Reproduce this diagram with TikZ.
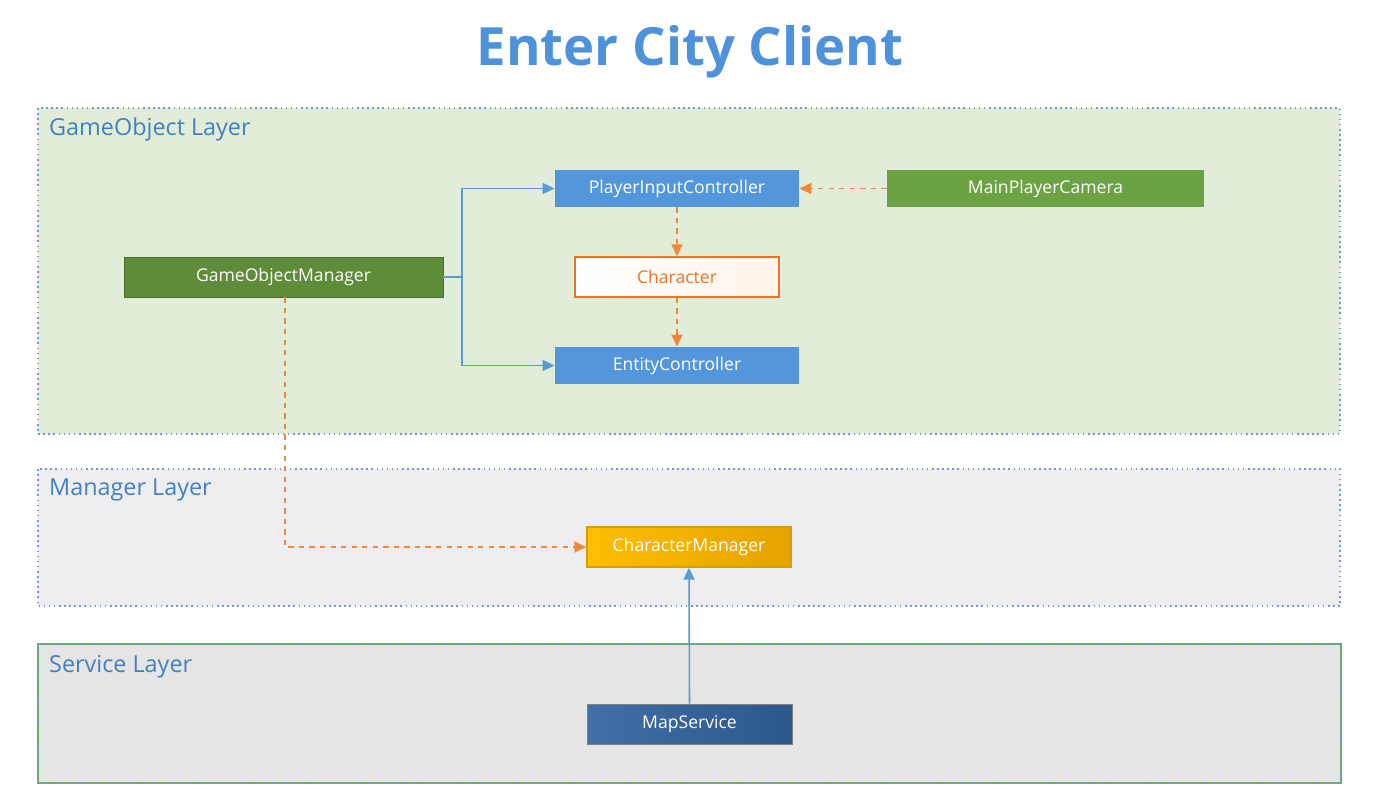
\documentclass[tikz,border=0pt]{standalone}
\usepackage{fontspec}
\setmainfont{Open Sans}
\usepackage{tikz}
\usetikzlibrary{arrows.meta}

\definecolor{titleblue}{RGB}{78,146,220}
\definecolor{labelblue}{RGB}{66,128,192}
\definecolor{nodeblue}{RGB}{84,150,219}
\definecolor{edgeblue}{RGB}{91,155,213}
\definecolor{edgeorange}{RGB}{242,135,58}
\definecolor{charorange}{RGB}{234,116,42}
\definecolor{camgreen}{RGB}{107,162,68}
\definecolor{mgrgreen}{RGB}{94,140,57}
\definecolor{goLayer}{RGB}{226,237,217}
\definecolor{mgrLayer}{RGB}{238,238,241}
\definecolor{svcLayer}{RGB}{229,229,229}
\definecolor{dotblue}{RGB}{120,150,200}
\definecolor{svcgreen}{RGB}{96,180,96}
\definecolor{cmleft}{RGB}{255,190,0}
\definecolor{cmright}{RGB}{230,162,0}
\definecolor{cmborder}{RGB}{214,158,0}
\definecolor{msleft}{RGB}{64,112,166}
\definecolor{msright}{RGB}{44,88,140}

\begin{document}
\begin{tikzpicture}[x=0.2mm,y=-0.2mm,
    layer/.style={draw=dotblue,dotted,line width=0.9pt},
    layerlabel/.style={anchor=west,text=labelblue,font=\fontsize{13.3}{15}\selectfont},
    box/.style={inner sep=0pt,text=white,font=\fontsize{10}{12}\selectfont},
    solidarrow/.style={draw=edgeblue,line width=0.9pt,-{Triangle[length=2.4mm,width=2.2mm]}},
    dasharrow/.style={draw=edgeorange,line width=0.9pt,dashed,-{Triangle[length=2.4mm,width=2.2mm]}}]
    \useasboundingbox (0,0) rectangle (1396,791);
    \fill[white] (0,0) rectangle (1396,791);
    % title
    \node[text=titleblue,font=\fontsize{30}{34}\selectfont\bfseries] (title) at (690,52) {Enter City Client};
    % layers
    \fill[goLayer] (38,108) rectangle (1340,434);
    \draw[layer] (38,108) rectangle (1340,434);
    \node[layerlabel] (golabel) at (43,129) {GameObject Layer};
    \fill[mgrLayer] (38,469) rectangle (1340,606);
    \draw[layer] (38,469) rectangle (1340,606);
    \node[layerlabel] (mgrlabel) at (43,490) {Manager Layer};
    \filldraw[fill=svcLayer,draw=svcgreen,line width=1pt] (38,644) rectangle (1341,783);
    \draw[layer] (38,644) rectangle (1341,783);
    \node[layerlabel] (svclabel) at (43,667) {Service Layer};
    % nodes
    \node[box,fill=nodeblue,minimum width=48.8mm,minimum height=7.4mm] (pic) at (677,188.5) {PlayerInputController};
    \node[box,fill=camgreen,minimum width=63.4mm,minimum height=7.4mm] (cam) at (1045.5,188.5) {MainPlayerCamera};
    \node[box,fill=mgrgreen,draw=mgrgreen!80!black,minimum width=63.8mm,minimum height=8mm] (gom) at (283.5,277) {GameObjectManager};
    \node[box,left color=white,right color=orange!8,draw=charorange,line width=0.8pt,text=charorange,minimum width=40.8mm,minimum height=8mm] (char) at (677,277) {Character};
    \node[box,fill=nodeblue,minimum width=48.8mm,minimum height=7.4mm] (ec) at (677,365.5) {EntityController};
    \node[box,left color=cmleft,right color=cmright,draw=cmborder,line width=0.8pt,minimum width=40.8mm,minimum height=8mm] (cm) at (689,547) {CharacterManager};
    \node[box,left color=msleft,right color=msright,draw=gray,minimum width=41mm,minimum height=8mm] (ms) at (689.5,724) {MapService};
    % connectors
    \coordinate (split) at (462,277);
    \draw[solidarrow] (gom.east) -- (split) |- (pic.west);
    \draw[solidarrow] (split) |- (ec.west);
    \draw[dasharrow] (pic.south) -- (char.north);
    \draw[dasharrow] (char.south) -- (ec.north);
    \draw[dasharrow] (cam.west) -- (pic.east);
    \draw[dasharrow] ([xshift=0.3mm]gom.south) |- (cm.west);
    \draw[solidarrow] (ms.north) -- (cm.south);
\end{tikzpicture}
\end{document}
